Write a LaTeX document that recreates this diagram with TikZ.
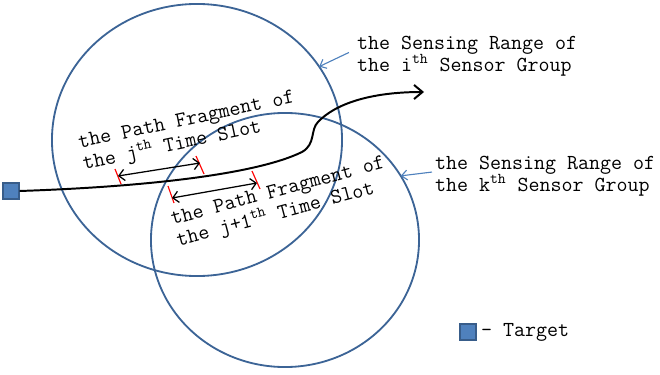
\documentclass[tikz,border=0pt]{standalone}
\usepackage{fontspec}
\usepackage{tikz}
\usetikzlibrary{positioning,shapes.geometric,arrows.meta}

\definecolor{rangeblue}{RGB}{60,100,150}
\definecolor{pointerblue}{RGB}{79,129,189}
\definecolor{targetfill}{RGB}{79,129,189}
\definecolor{targetline}{RGB}{56,93,138}

\begin{document}
\begin{tikzpicture}[x=0.025cm, y=-0.025cm,
        sensing/.style={ellipse, draw=rangeblue, line width=1.3pt, inner sep=0pt, outer sep=0pt},
        target/.style={rectangle, fill=targetfill, draw=targetline, line width=0.8pt,
          minimum width=0.4cm, minimum height=0.4cm, inner sep=0pt},
        lbl/.style={font=\ttfamily\fontsize{15.2}{15.6}\selectfont, align=left, inner sep=2pt},
        route/.style={line width=1.4pt, -{Straight Barb[length=6pt,width=10pt]}},
        span/.style={line width=0.9pt, {Straight Barb[length=4pt,width=8pt]}-{Straight Barb[length=4pt,width=8pt]}},
        cut/.style={red, line width=0.8pt},
        pointer/.style={pointerblue, line width=0.8pt, -{Straight Barb[length=4pt,width=7pt]}}]
        \useasboundingbox (0,0) rectangle (660,375);

        % sensing ranges
        \node [sensing, minimum width=7.25cm, minimum height=6.8cm] (rangeI) at (197,140) {};
        \node [sensing, minimum width=6.7cm, minimum height=6.35cm] (rangeK) at (285,240) {};

        % labels of the ranges
        \node [lbl, anchor=west] (labI) at (354,56) {the Sensing Range of\\the i\textsuperscript{th} Sensor Group};
        \node [lbl, anchor=west] (labK) at (432,176) {the Sensing Range of\\the k\textsuperscript{th} Sensor Group};
        \draw [pointer, shorten <=4pt] (labI.177) -- (rangeI.31);
        \draw [pointer] (labK.178) -- (rangeK.29);

        % target and its path
        \node [target] (tgt) at (11,191) {};
        \coordinate (dest) at (424,92);
        \draw [route] (tgt.east) .. controls (140,187) and (255,175) .. (302,152)
          .. controls (316,144) and (310,130) .. (318,122)
          .. controls (335,104) and (370,92) .. (dest);

        % path fragments
        \coordinate (j0) at (118,176);
        \coordinate (j1) at (200,163);
        \coordinate (k0) at (172,198);
        \coordinate (k1) at (257,183);
        \draw [cut] (j0) ++(-3,-7) -- ++(6,15);
        \draw [cut] (j1) ++(-4,-7) -- ++(8,18);
        \draw [cut] (k0) ++(-4,-12) -- ++(6,17);
        \draw [cut] (k1) ++(-5,-12) -- ++(8,18);
        \draw [span] (j0) -- (j1);
        \draw [span] (k0) -- (k1);

        \node [lbl, rotate=12] (fragJ) at (189,132) {the Path Fragment of\\the j\textsuperscript{th} Time Slot};
        \node [lbl, rotate=15] (fragK) at (281,203) {the Path Fragment of\\the j+1\textsuperscript{th} Time Slot};

        % legend
        \node [target] (leg) at (468,332) {};
        \node [lbl, right=1pt of leg] (legtext) {- Target};
      \end{tikzpicture}
\end{document}
